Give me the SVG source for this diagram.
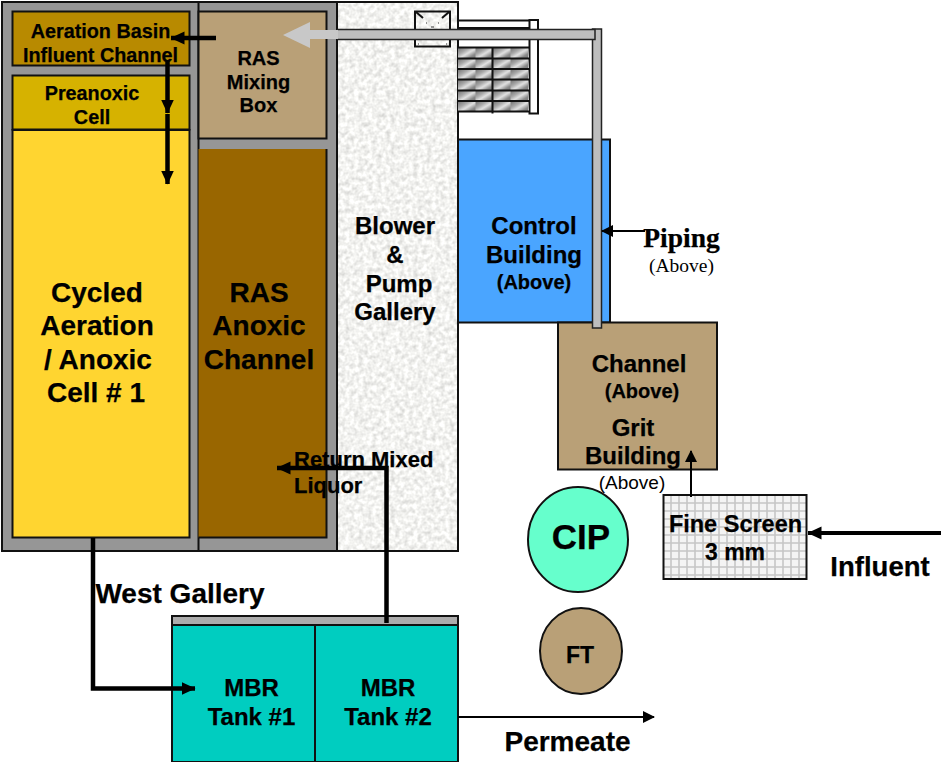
<svg xmlns="http://www.w3.org/2000/svg" width="941" height="762" viewBox="0 0 941 762">
<style>
text{font-family:"Liberation Sans",Arial,sans-serif;font-weight:bold;fill:#000;text-anchor:middle;stroke:#000;stroke-width:.25}
.s{stroke:#111;stroke-width:2}
.c{fill:none;stroke:#000}
.t15{font-size:19.800px}.t20{font-size:20px}.t23{font-size:24px}.t28{font-size:28px}
.serif{font-family:"Liberation Serif",serif}
.n{font-weight:normal;stroke:none}
</style>
<defs>
<filter id="grain" x="0" y="0" width="100%" height="100%" color-interpolation-filters="sRGB"><feTurbulence type="fractalNoise" baseFrequency=".22" numOctaves="2" seed="4"/><feColorMatrix values=".3 0 0 0 .8 .3 0 0 0 .8 .3 0 0 0 .79 0 0 0 0 1"/></filter>
<pattern id="grid" x="667" y="499" width="8" height="8" patternUnits="userSpaceOnUse"><rect width="8" height="8" fill="#f4f4f4"/><path d="M4 0V8M0 4H8" stroke="#c6c6c6" stroke-width="1.600"/></pattern>
<linearGradient id="memc" x1="0" y1="0" x2="1" y2="1"><stop offset="0" stop-color="#6f6f6f"/><stop offset=".35" stop-color="#aaa"/><stop offset=".55" stop-color="#e2e2e2"/><stop offset=".8" stop-color="#888"/><stop offset="1" stop-color="#777"/></linearGradient>
<pattern id="mem" x="458" y="47.500" width="17.500" height="10.700" patternUnits="userSpaceOnUse"><rect width="17.500" height="10.700" fill="url(#memc)"/></pattern>
<marker id="a" markerUnits="userSpaceOnUse" markerWidth="14" markerHeight="14" refX="13.500" refY="7" orient="auto"><path d="M0 0.500L14 7L0 13.500Z" fill="#000"/></marker>
<marker id="b" markerUnits="userSpaceOnUse" markerWidth="12" markerHeight="12" refX="11" refY="6" orient="auto"><path d="M0 0L12 6L0 12Z" fill="#000"/></marker>
</defs>

<g id="structure">
<rect x="2" y="2" width="335" height="549" fill="#969696" class="s"/>
<path d="M198.500 2V551" class="s"/>
</g>
<g id="aeration-basin-channel"><rect x="12.500" y="11.500" width="177" height="54" fill="#b88a00" class="s"/>
<text class="t15" x="100.500" y="38">Aeration Basin</text><text class="t15" x="100.500" y="62">Influent Channel</text></g>
<g id="preanoxic-cell"><rect x="12.500" y="75.500" width="177" height="54" fill="#d6b200" class="s"/>
<text class="t15" x="92" y="100">Preanoxic</text><text class="t15" x="92" y="124">Cell</text></g>
<g id="cycled-cell"><rect x="12.500" y="130" width="177" height="407.500" fill="#ffd530" class="s"/>
<text class="t28" x="97" y="302">Cycled</text><text class="t28" x="97" y="335">Aeration</text><text class="t28" x="98" y="369">/ Anoxic</text><text class="t28" x="96" y="402">Cell # 1</text></g>
<g id="ras-mixing-box"><rect x="198.500" y="11.500" width="128" height="127" fill="#b9a077" class="s"/>
<text class="t20" x="258.500" y="65">RAS</text><text class="t20" x="258.500" y="89">Mixing</text><text class="t20" x="258.500" y="112">Box</text></g>
<g id="ras-anoxic-channel"><rect x="198.500" y="149" width="128" height="388.500" fill="#996600"/><path d="M198.500 537.500H326.500V149" fill="none" class="s"/>
<text class="t28" x="259" y="302">RAS</text><text class="t28" x="259" y="335">Anoxic</text><text class="t28" x="259" y="369">Channel</text></g>
<g id="blower-gallery"><rect x="337" y="2" width="121" height="549" fill="#eee" filter="url(#grain)"/><rect x="337" y="2" width="121" height="549" fill="none" class="s"/>
<text class="t23" x="395" y="234">Blower</text><text class="t23" x="395" y="263">&amp;</text><text class="t23" x="399" y="292">Pump</text><text class="t23" x="395" y="320">Gallery</text></g>
<g id="gallery-hatch"><rect x="415" y="11.500" width="35" height="35" fill="none" class="s"/><path d="M416 12l7 6M449 12l-7 6" class="s"/><path d="M426 23h1M438 23h1M431 27h3M418 44h1M446 44h1" stroke="#333" stroke-width="1"/></g>
<g id="membrane-rack">
<path d="M458 20.500H529M458 28H529" class="s" fill="none"/>
<rect x="529.500" y="20" width="8.500" height="93.500" fill="#fff" class="s"/>
<rect x="458" y="48" width="71" height="63" fill="url(#mem)"/>
<path d="M458 47.500H529.500M458 58.500H529.500M458 69H529.500M458 79.500H529.500M458 90.500H529.500M458 101H529.500M458 111.500H529.500M492.500 47V113.500" class="s" fill="none"/>
</g>
<g id="control-building"><rect x="458" y="139.500" width="152" height="183" fill="#4aa5ff" class="s"/>
<text class="t23" x="534" y="234">Control</text><text class="t23" x="534" y="263">Building</text><text class="t20" x="534" y="289">(Above)</text></g>
<g id="grit-building"><rect x="558" y="322.500" width="159" height="147" fill="#b9a077" class="s"/>
<text class="t23" x="639" y="372">Channel</text><text x="642" y="398" font-size="20">(Above)</text>
<text class="t23" x="633" y="436">Grit</text><text class="t23" x="633" y="464">Building</text></g>
<text id="grit-above" class="n" x="632" y="489" font-size="19">(Above)</text>
<g id="fine-screen"><rect x="663.500" y="495" width="143" height="84" fill="url(#grid)" class="s"/>
<text x="735.500" y="532" font-size="23.500">Fine Screen</text><text x="735" y="560" font-size="23">3 mm</text></g>
<g id="cip"><ellipse cx="578" cy="539.500" rx="50" ry="52.500" fill="#66ffcc" class="s"/><text x="581" y="549" font-size="35">CIP</text></g>
<g id="ft"><ellipse cx="581" cy="651" rx="41" ry="43" fill="#b9a077" class="s"/><text x="580" y="663" font-size="23">FT</text></g>
<g id="mbr-header"><rect x="172" y="616" width="286" height="9" fill="#acacac" class="s"/></g>
<g id="mbr-tank-1"><rect x="172" y="625" width="143" height="137" fill="#00cdc0" class="s"/>
<text class="t23" x="251.500" y="696">MBR</text><text class="t23" x="251.500" y="725">Tank #1</text></g>
<g id="mbr-tank-2"><rect x="315" y="625" width="143" height="137" fill="#00cdc0" class="s"/>
<text class="t23" x="388" y="696">MBR</text><text class="t23" x="388" y="725">Tank #2</text></g>

<g id="connectors">
<rect x="592.500" y="29" width="9" height="299" fill="#bdbdbd" stroke="#222" stroke-width="1.500"/>
<path d="M337 29.500H595V39.500H337" fill="#bdbdbd" stroke="#222" stroke-width="1.500"/>
<path d="M283 35L310 22V48Z" fill="#c8c8c8"/><rect x="309" y="30" width="29" height="9" fill="#c8c8c8"/>
<path d="M216 38H171" class="c" stroke-width="4.500" marker-end="url(#a)"/>
<path d="M167.500 60V113" class="c" stroke-width="4.500" marker-end="url(#a)"/>
<path d="M167.500 114V184" class="c" stroke-width="4.500" marker-end="url(#a)"/>
<path d="M93 538V688.500H195" class="c" stroke-width="4.500" marker-end="url(#a)"/>
<path d="M386.500 623V468H277" class="c" stroke-width="4.500" marker-end="url(#a)"/>
<path d="M645 231H602" class="c" stroke-width="2" marker-end="url(#b)"/>
<path d="M691 497V451" class="c" stroke-width="2" marker-end="url(#b)"/>
<path d="M941 533H808" class="c" stroke-width="4" marker-end="url(#a)"/>
<path d="M458 717H654" class="c" stroke-width="2" marker-end="url(#b)"/>
</g>

<g id="labels">
<text class="serif" x="681.500" y="247" font-size="27.500" stroke-width=".4">Piping</text>
<text class="serif n" x="681.500" y="272" style="font-size:19.500px">(Above)</text>
<text x="294" y="467" font-size="22" style="text-anchor:start">Return Mixed</text>
<text x="294" y="493" font-size="22" style="text-anchor:start">Liquor</text>
<text x="180" y="603" font-size="28">West Gallery</text>
<text x="880" y="576" font-size="27.500">Influent</text>
<text x="567.500" y="751" font-size="28">Permeate</text>
</g>
</svg>
